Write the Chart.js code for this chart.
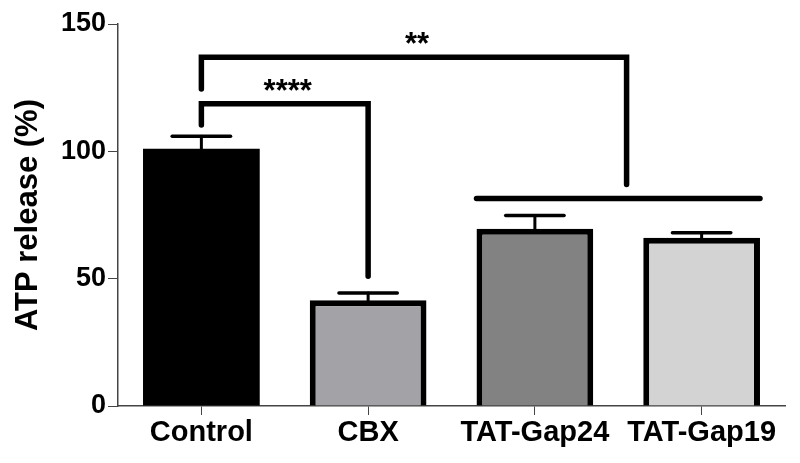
<!DOCTYPE html>
<html>
<head>
<meta charset="utf-8">
<script src="https://cdn.jsdelivr.net/npm/chart.js@4.4.1/dist/chart.umd.min.js"></script>
<style>
  html, body { margin: 0; padding: 0; background: #fff; }
  #wrap { width: 800px; height: 463px; }
</style>
</head>
<body>
<div id="wrap"><canvas id="atp-chart"></canvas></div>
<script>
const categories = ['Control', 'CBX', 'TAT-Gap24', 'TAT-Gap19'];
const meanValues = [101, 41.5, 69.6, 66.1];
const semValues = [4.9, 2.9, 5.2, 1.9];
const barColors = ['#000000', '#a3a2a7', '#828282', '#d3d3d3'];
const barBorders = [0, 6, 6, 6];
const yTicks = [0, 50, 100, 150];

// significance brackets (y in data units, x in category index)
const sigLabels = ['****', '**'];
const sigLevels = [118.7, 136.9];
const sigLeftPos = [0, 0];
const sigRightPos = [1, 2.55];
const sigLeftEnds = [110.3, 124.5];
const sigRightEnds = [50.9, 87];
// line spanning the two TAT groups
const groupFrom = 2, groupTo = 3, groupLevel = 81.5;

const FONT = 'Liberation Sans, Arial, Helvetica, sans-serif';

const errorBars = {
    id: 'errorBars',
    afterDatasetsDraw(chart) {
        const ctx = chart.ctx;
        const y = chart.scales.y;
        const meta = chart.getDatasetMeta(0);
        ctx.save();
        ctx.strokeStyle = '#000';
        ctx.lineCap = 'round';
        meta.data.forEach((bar, i) => {
            const top = y.getPixelForValue(meanValues[i]);
            const cap = y.getPixelForValue(meanValues[i] + semValues[i]);
            const half = bar.width / 4;
            ctx.lineWidth = 3;
            ctx.beginPath();
            ctx.moveTo(bar.x, top);
            ctx.lineTo(bar.x, cap);
            ctx.stroke();
            ctx.lineWidth = 3.5;
            ctx.beginPath();
            ctx.moveTo(bar.x - half, cap);
            ctx.lineTo(bar.x + half, cap);
            ctx.stroke();
        });
        ctx.restore();
    }
};

const brackets = {
    id: 'brackets',
    afterDatasetsDraw(chart) {
        const ctx = chart.ctx;
        const x = chart.scales.x, y = chart.scales.y;
        const meta = chart.getDatasetMeta(0);
        ctx.save();
        ctx.strokeStyle = '#000';
        ctx.fillStyle = '#000';
        ctx.lineWidth = 5.5;
        ctx.lineCap = 'round';
        ctx.lineJoin = 'miter';
        sigLabels.forEach((label, i) => {
            const x1 = x.getPixelForValue(sigLeftPos[i]);
            const x2 = x.getPixelForValue(sigRightPos[i]);
            const yl = y.getPixelForValue(sigLevels[i]);
            ctx.beginPath();
            ctx.moveTo(x1, y.getPixelForValue(sigLeftEnds[i]));
            ctx.lineTo(x1, yl);
            ctx.lineTo(x2, yl);
            ctx.lineTo(x2, y.getPixelForValue(sigRightEnds[i]));
            ctx.stroke();
            ctx.font = 'bold 31px ' + FONT;
            ctx.textAlign = 'center';
            ctx.textBaseline = 'alphabetic';
            ctx.fillText(label, (x1 + x2) / 2 + 3, yl - 3);
        });
        const a = meta.data[groupFrom], b = meta.data[groupTo];
        const gy = y.getPixelForValue(groupLevel);
        ctx.beginPath();
        ctx.moveTo(a.x - a.width / 2, gy);
        ctx.lineTo(b.x + b.width / 2, gy);
        ctx.stroke();
        ctx.restore();
    }
};

new Chart(document.getElementById('atp-chart'), {
    type: 'bar',
    data: {
        labels: categories,
        datasets: [{
            data: meanValues,
            backgroundColor: barColors,
            borderColor: '#000',
            borderWidth: barBorders,
            borderSkipped: 'bottom',
            barPercentage: 0.7,
            categoryPercentage: 1,
        }]
    },
    options: {
        responsive: true,
        maintainAspectRatio: false,
        animation: false,
        layout: { padding: { top: 24, right: 15, left: 0, bottom: 0 } },
        plugins: { legend: { display: false }, tooltip: { enabled: false } },
        scales: {
            x: {
                grid: { display: true, drawOnChartArea: false, drawTicks: true, tickLength: 9, color: '#444', offset: false },
                border: { display: true, color: '#444', width: 1.5 },
                ticks: { color: '#000', padding: 1, font: { family: FONT, size: 29, weight: 'bold' } },
                afterFit: s => { s.height = 57; },
            },
            y: {
                min: 0,
                max: 150,
                afterBuildTicks: s => { s.ticks = yTicks.map(v => ({ value: v })); },
                grid: { display: true, drawOnChartArea: false, drawTicks: true, tickLength: 10, color: '#444' },
                border: { display: true, color: '#444', width: 1.5 },
                ticks: { color: '#000', padding: 2, font: { family: FONT, size: 27, weight: 'bold' } },
                title: { display: true, text: 'ATP release (%)', color: '#000', padding: { top: 10, bottom: 0 }, font: { family: FONT, size: 31, weight: 'bold' } },
                afterFit: s => { s.width = 118; },
            }
        }
    },
    plugins: [errorBars, brackets]
});
</script>
</body>
</html>
